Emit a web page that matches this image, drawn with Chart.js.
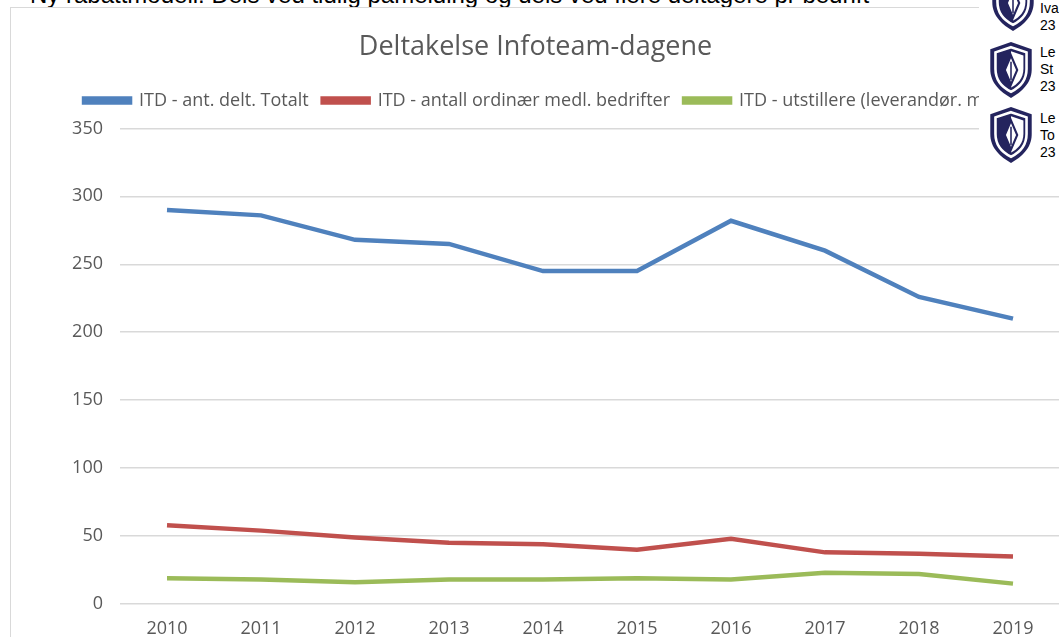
<!DOCTYPE html>
<html>
<head>
<meta charset="utf-8">
<script src="https://cdn.jsdelivr.net/npm/chart.js@4/dist/chart.umd.min.js"></script>
<style>
  body { margin: 0; width: 1059px; height: 637px; overflow: hidden; background: #fff; position: relative; }
  #topline { position: absolute; left: 30px; top: -19px; font: 24px "Liberation Sans", Arial, sans-serif; color: #000; white-space: nowrap; }
  #frame { position: absolute; left: 10px; top: 7px; width: 1100px; height: 700px; border: 1px solid #d9d9d9; }
  #chart { position: absolute; left: 11px; top: 8px; }
  #side { position: absolute; left: 979px; top: 0; width: 80px; height: 168px; background: #fff; }
  .shield { position: absolute; width: 46px; height: 58px; }
  .who { position: absolute; left: 61px; font: 14px/17px "Liberation Sans", Arial, sans-serif; color: #000; white-space: nowrap; }
</style>
</head>
<body>
<div id="topline">Ny rabattmodell: Dels ved tidlig påmelding og dels ved flere deltagere pr bedrift</div>
<div id="frame"></div>
<canvas id="chart" width="1058" height="636"></canvas>
<div id="side">
  <svg width="0" height="0" style="position:absolute">
    <defs>
      <symbol id="crest" viewBox="0 0 44 56">
        <path d="M22 1 L42 8 L42 27 C42 41 32 49 22 55 C12 49 2 41 2 27 L2 8 Z" fill="#24245e"/>
        <path d="M22 6 L37 11 L37 27 C37 38 30 45 22 49 C14 45 7 38 7 27 L7 11 Z" fill="none" stroke="#fff" stroke-width="2.5"/>
        <path d="M22 10 L34 14 L34 27 C34 36 28 42 22 45 Z" fill="#fff"/>
        <path d="M22 14 L28 28 L22 42 L16 28 Z" fill="#fff" stroke="#24245e" stroke-width="2"/>
        <path d="M22 20 L22 38" stroke="#24245e" stroke-width="1.5"/>
      </symbol>
    </defs>
  </svg>
  <svg class="shield" style="left:11px; top:-26px"><use href="#crest"/></svg>
  <div class="who" style="top:0px">Iva<br>23</div>
  <svg class="shield" style="left:9px; top:41px"><use href="#crest"/></svg>
  <div class="who" style="top:44px">Le<br>St<br>23</div>
  <svg class="shield" style="left:9px; top:106px"><use href="#crest"/></svg>
  <div class="who" style="top:110px">Le<br>To<br>23</div>
</div>
<script>
// Deltakelse Infoteam-dagene
const years = ['2010', '2011', '2012', '2013', '2014', '2015', '2016', '2017', '2018', '2019'];
const totalt = [290, 286, 268, 265, 245, 245, 282, 260, 226, 210];
const ordinaer = [58, 54, 49, 45, 44, 40, 48, 38, 37, 35];
const utstillere = [19, 18, 16, 18, 18, 19, 18, 23, 22, 15];

const grey = '#595959';
const fontFamily = '"Open Sans", sans-serif';

function lineSet(label, data, color) {
  return {
    label: label,
    data: data,
    borderColor: color,
    backgroundColor: color,
    borderWidth: 4.5,
    pointRadius: 0,
    tension: 0,
    fill: false
  };
}

// more room under the legend, and nudge the legend row a little to the right
const legendTweak = {
  id: 'legendTweak',
  beforeInit(chart) {
    const fit = chart.legend.fit;
    chart.legend.fit = function() {
      fit.bind(chart.legend)();
      this.height += 9;
    };
  },
  afterLayout(chart) {
    chart.legend.left += 32;
  }
};

new Chart(document.getElementById('chart'), {
  type: 'line',
  data: {
    labels: years,
    datasets: [
      lineSet('ITD - ant. delt. Totalt', totalt, '#4f81bd'),
      lineSet('ITD - antall ordinær medl. bedrifter', ordinaer, '#c0504d'),
      lineSet('ITD - utstillere (leverandør. medl.)', utstillere, '#9bbb59')
    ]
  },
  plugins: [legendTweak],
  options: {
    responsive: false,
    animation: false,
    layout: { padding: { top: 0, right: 9, bottom: 0, left: 0 } },
    plugins: {
      title: {
        display: true,
        text: 'Deltakelse Infoteam-dagene',
        color: grey,
        font: { family: fontFamily, size: 27, weight: 'normal' },
        padding: { top: 23, bottom: 14 }
      },
      legend: {
        display: true,
        position: 'top',
        labels: {
          color: grey,
          font: { family: fontFamily, size: 18 },
          boxWidth: 46,
          boxHeight: 4,
          padding: 14
        }
      },
      tooltip: { enabled: false }
    },
    scales: {
      x: {
        offset: true,
        grid: { display: false, drawTicks: false },
        border: { display: false },
        ticks: { color: grey, font: { family: fontFamily, size: 18 }, padding: 14, maxRotation: 0 },
        afterFit: function(scale) { scale.height = 40; }
      },
      y: {
        min: 0,
        max: 350,
        ticks: { stepSize: 50, color: grey, font: { family: fontFamily, size: 18 }, padding: 17 },
        grid: { color: '#d9d9d9', lineWidth: 1.5, drawTicks: false },
        border: { display: false },
        afterFit: function(scale) { scale.width = 109; }
      }
    }
  }
});
</script>
</body>
</html>
